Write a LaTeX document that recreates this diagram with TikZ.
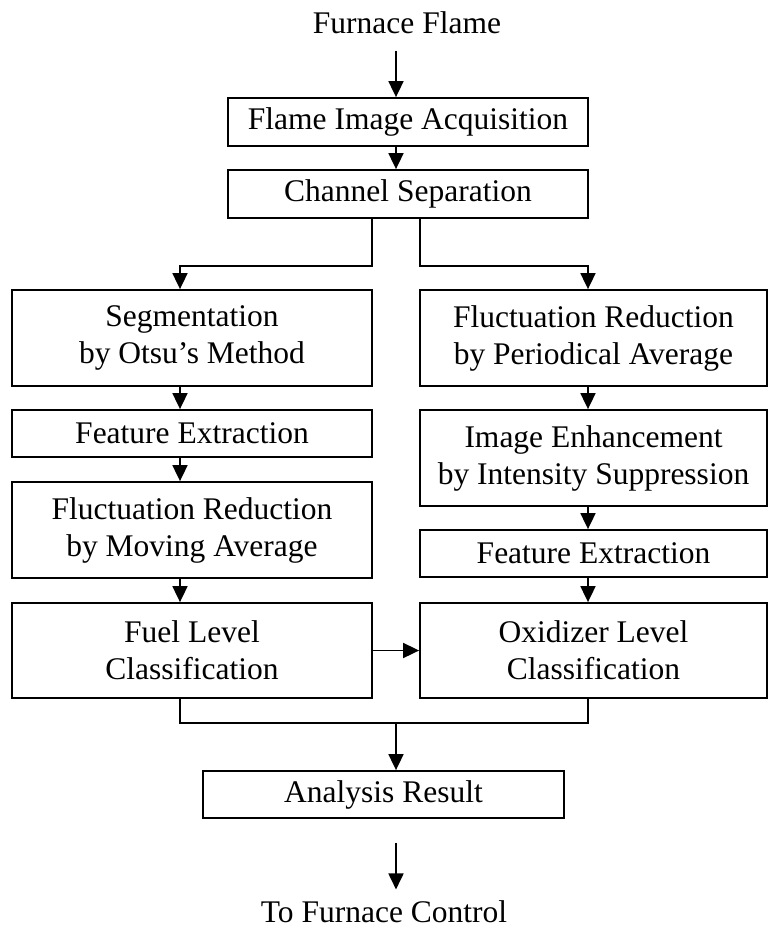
\documentclass[tikz,border=0pt]{standalone}
\usepackage{fontspec}
\setmainfont{Liberation Serif}
\usepackage{tikz}
\usetikzlibrary{calc,arrows.meta}

\tikzset{
    procbox/.style={draw, line width=1.8pt, inner sep=0pt, align=center,
        font=\fontsize{31.5}{37}\selectfont},
    plaintext/.style={inner sep=0pt, font=\fontsize{31.5}{37}\selectfont},
    arr/.style={line width=1.8pt, -{Triangle[length=16pt,width=15pt]}},
    link/.style={line width=1.8pt}
}

\begin{document}
\begin{tikzpicture}[x=1pt, y=-1pt]
        \useasboundingbox (0,0) rectangle (769,927);

        \coordinate (mid) at (396,0);
        \coordinate (colL) at (180,0);
        \coordinate (colR) at (588,0);
        \coordinate (splitL) at (372,266);
        \coordinate (splitR) at (420,266);
        \coordinate (join) at (396,723);

        \node[plaintext, anchor=base] (flame) at (407,33) {Furnace Flame};
        \node[procbox, minimum width=360, minimum height=48] (acq) at (408,122) {Flame Image Acquisition};
        \node[procbox, minimum width=360, minimum height=48] (chan) at (408,194) {Channel Separation};

        % left column
        \node[procbox, minimum width=360, minimum height=96] (segL) at (192,338) {Segmentation\\by Otsu’s Method};
        \node[procbox, minimum width=360, minimum height=47] (featL) at (192,433.5) {Feature Extraction};
        \node[procbox, minimum width=360, minimum height=96] (fluctL) at (192,530) {Fluctuation Reduction\\by Moving Average};
        \node[procbox, minimum width=360, minimum height=95] (fuel) at (192,650.5) {Fuel Level\\Classification};

        % right column
        \node[procbox, minimum width=347, minimum height=96] (fluctR) at (593.5,338) {Fluctuation Reduction\\by Periodical Average};
        \node[procbox, minimum width=347, minimum height=96] (enh) at (593.5,458) {Image Enhancement\\by Intensity Suppression};
        \node[procbox, minimum width=347, minimum height=47] (featR) at (593.5,553.5) {Feature Extraction};
        \node[procbox, minimum width=347, minimum height=95] (oxid) at (593.5,650.5) {Oxidizer Level\\Classification};

        \node[procbox, minimum width=361, minimum height=47] (result) at (383.5,794.5) {Analysis Result};
        \node[plaintext, anchor=base] (ctrl) at (384,922) {To Furnace Control};

        \draw[arr] ($(flame.south -| mid)+(0,17)$) -- (acq.north -| mid);
        \draw[arr] (acq.south -| mid) -- (chan.north -| mid);

        \draw[arr] (chan.south -| splitL) -- (splitL) -| (segL.north -| colL);
        \draw[arr] (chan.south -| splitR) -- (splitR) -| (fluctR.north -| colR);

        \foreach \a/\b in {segL/featL, featL/fluctL, fluctL/fuel} {
            \draw[arr] (\a.south -| colL) -- (\b.north -| colL);
        }
        \foreach \a/\b in {fluctR/enh, enh/featR, featR/oxid} {
            \draw[arr] (\a.south -| colR) -- (\b.north -| colR);
        }

        \draw[arr] (fuel.east) -- (oxid.west);

        \draw[link] (fuel.south -| colL) |- (join) -| (oxid.south -| colR);
        \draw[arr] (join) -- (result.north -| join);

        \draw[arr] ($(result.south -| mid)+(0,24)$) -- ($(ctrl.north -| mid)+(0,-10.5)$);
    \end{tikzpicture}
\end{document}
